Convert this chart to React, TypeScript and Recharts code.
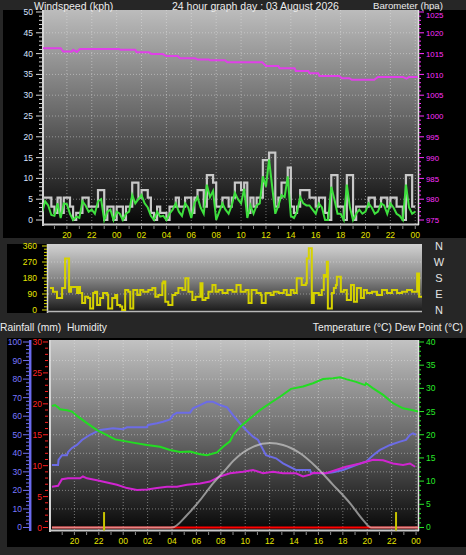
import React from 'react';
import { ComposedChart, Line, XAxis, YAxis, CartesianGrid, ReferenceLine } from 'recharts';

const FONT = '"Liberation Sans", Arial, Helvetica, sans-serif';

// ---------------- time axis ----------------
const hourTicks = [19, 20, 21, 22, 23, 24, 25, 26, 27, 28, 29, 30, 31, 32, 33, 34, 35, 36, 37, 38, 39, 40, 41, 42, 43, 44, 45, 46, 47, 48];
const labelHours = [20, 22, 24, 26, 28, 30, 32, 34, 36, 38, 40, 42, 44, 46, 48];
const labelTexts = ['20', '22', '00', '02', '04', '06', '08', '10', '12', '14', '16', '18', '20', '22', '00'];

// ---------------- panel 1 : wind + barometer ----------------
const gustKph = [
  5.4, 5.4, 5.4, 3.2, 1.7, 5.4, 1.7, 5.4, 5.4, 3.2,
  0, 1.7, 1.7, 5.4, 5.4, 3.2, 3.2, 3.2, 7.2, 7.2,
  0, 3.2, 3.2, 0, 3.2, 3.2, 0, 3.2, 3.2, 9.0,
  9.0, 5.4, 7.2, 7.2, 5.4, 1.7, 0, 3.2, 1.7, 1.7,
  0, 3.2, 3.2, 5.4, 3.2, 3.2, 5.4, 5.4, 1.7, 5.4,
  7.2, 7.2, 3.2, 10.8, 10.8, 9.0, 3.2, 3.2, 5.4, 5.4,
  3.2, 5.4, 9.0, 9.0, 7.2, 9.0, 1.7, 5.4, 3.2, 5.4,
  5.4, 14.4, 14.4, 16.2, 16.2, 3.2, 5.4, 9.0, 9.0, 12.6,
  3.2, 1.7, 3.2, 7.2, 7.2, 7.2, 5.4, 5.4, 3.2, 5.4,
  5.4, 1.7, 0, 10.8, 10.8, 3.2, 3.2, 0, 10.8, 10.8,
  0, 3.2, 3.2, 3.2, 3.2, 5.4, 5.4, 3.2, 3.2, 5.4,
  5.4, 3.2, 5.4, 5.4, 3.2, 3.2, 0, 10.8, 10.8, 3.2,
  3.2,
];
const windKph = [
  1.8, 4.5, 3.5, 1.2, 1.0, 4.0, 0.5, 4.0, 3.8, 1.5,
  0, 0.8, 0.5, 4.5, 3.5, 2.0, 2.5, 1.5, 4.5, 5.0,
  0, 2.0, 2.5, 0, 2.0, 1.5, 0, 1.5, 2.0, 6.0,
  4.0, 5.0, 6.0, 4.0, 3.0, 1.0, 0, 2.0, 0.8, 1.0,
  0, 1.5, 2.5, 4.0, 2.0, 1.0, 4.0, 3.0, 0.5, 4.0,
  5.5, 3.0, 1.5, 8.5, 5.5, 7.0, 0, 2.0, 4.0, 2.5,
  1.5, 3.5, 6.5, 5.0, 4.0, 7.5, 0.5, 3.5, 1.5, 3.5,
  4.0, 10.5, 8.0, 14.5, 8.0, 1.5, 3.5, 6.0, 5.5, 10.5,
  1.0, 0.5, 2.0, 5.5, 4.0, 3.5, 3.5, 2.5, 1.5, 4.0,
  3.0, 0, 0, 8.0, 5.0, 1.5, 1.5, 0, 8.5, 3.0,
  0, 1.5, 2.5, 1.5, 2.0, 4.0, 3.0, 1.5, 2.0, 4.0,
  3.5, 1.5, 4.0, 3.0, 1.5, 1.0, 0, 8.5, 3.0, 1.5,
  2.0,
];
const windStartHour = 18;
const windStepHours = 0.25;
const baroTimes = [18.0, 19.5, 19.7, 20.4, 20.5, 20.8, 21.05, 24.2, 24.3, 25.5, 25.6, 26.6, 26.8, 27.7, 28.0, 28.9, 29.1, 30.3, 30.5, 31.4, 31.5, 32.7, 32.9, 35.7, 36.0, 37.0, 37.1, 38.3, 38.4, 39.4, 39.5, 40.2, 40.3, 41.9, 42.1, 42.7, 42.9, 44.7, 45.0, 47.0, 47.3, 47.5, 48.2];
const baroHpa = [1016.3, 1016.3, 1015.5, 1015.5, 1015.9, 1015.4, 1016.1, 1016.1, 1015.9, 1015.9, 1015.3, 1015.3, 1014.9, 1014.9, 1014.4, 1014.4, 1013.9, 1013.9, 1013.6, 1013.6, 1013.4, 1013.4, 1012.9, 1012.9, 1012.0, 1012.0, 1011.5, 1011.5, 1010.8, 1010.8, 1010.3, 1010.3, 1009.6, 1009.6, 1009.1, 1009.1, 1008.7, 1008.7, 1009.4, 1009.4, 1009.0, 1009.4, 1009.4];

// ---------------- panel 2 : wind direction ----------------
const dirTimes = [18.16, 18.40, 18.72, 18.97, 19.13, 19.37, 19.61, 19.69, 19.85, 20.25, 20.33, 20.41, 20.57, 20.74, 20.98, 21.22, 21.38, 21.62, 21.78, 21.94, 22.18, 22.42, 22.75, 22.83, 23.15, 23.39, 23.55, 23.79, 23.95, 24.19, 24.44, 24.60, 24.84, 25.16, 25.40, 25.64, 26.05, 26.37, 26.61, 26.85, 27.17, 27.25, 27.41, 27.65, 27.98, 28.22, 28.46, 28.78, 29.02, 29.26, 29.58, 29.83, 30.23, 30.39, 30.63, 30.87, 31.19, 31.44, 31.68, 32.00, 32.40, 32.80, 33.12, 33.45, 33.85, 34.09, 34.33, 34.73, 35.06, 35.14, 35.46, 35.86, 36.10, 36.50, 36.91, 37.15, 37.47, 37.71, 37.95, 38.35, 38.68, 38.76, 38.92, 39.08, 39.16, 39.32, 39.72, 39.96, 40.12, 40.28, 40.37, 40.45, 40.69, 40.77, 40.93, 41.09, 41.17, 41.49, 41.73, 41.97, 42.30, 42.54, 42.78, 43.10, 43.34, 43.58, 43.99, 44.39, 44.79, 45.19, 45.59, 46.00, 46.40, 46.80, 47.20, 47.53, 47.61, 47.77, 48.0];
const dirDeg = [124, 103, 67, 67, 124, 290, 290, 103, 130, 130, 96, 130, 96, 39, 75, 67, 9, 96, 103, 28, 67, 96, 84, 9, 67, 84, 28, 19, 0, 112, 103, 9, 112, 84, 112, 103, 112, 124, 75, 84, 150, 160, 47, 28, 84, 96, 124, 112, 178, 103, 56, 75, 150, 56, 67, 103, 140, 103, 112, 96, 112, 103, 140, 103, 112, 39, 112, 96, 84, 39, 96, 84, 103, 96, 112, 84, 112, 96, 178, 140, 150, 290, 347, 347, 39, 96, 84, 112, 197, 187, 272, 9, 9, 96, 124, 140, 187, 103, 112, 56, 140, 47, 124, 67, 112, 96, 103, 84, 112, 96, 112, 96, 103, 112, 103, 103, 206, 75, 75];
const dirTickValues = [0, 90, 180, 270, 360];
const dirTickLetters = ['N', 'E', 'S', 'W', 'N'];

// ---------------- panel 3 : temperature / humidity / rain ----------------
const humTimes = [18.16, 18.66, 18.7, 18.98, 19.39, 19.48, 19.8, 20.21, 20.62, 21.28, 22.1, 23.16, 23.98, 24.31, 25.95, 26.03, 26.77, 27.26, 27.84, 28.08, 28.41, 29.48, 29.72, 30.3, 30.87, 31.36, 31.93, 32.51, 33.0, 33.57, 34.07, 34.64, 35.05, 35.7, 36.52, 37.1, 38.16, 39.31, 39.39, 40.62, 41.2, 42.02, 43.08, 43.9, 44.48, 45.05, 45.87, 46.69, 47.18, 47.5, 47.75, 48.0];
const humPct = [33.7, 33.7, 36.4, 39.0, 39.0, 40.7, 42.9, 44.5, 47.2, 50, 52.6, 53.5, 53, 54, 54, 55.3, 56.2, 57, 58.3, 60.6, 61.9, 61.9, 64.2, 66, 67.8, 67.8, 66, 64.8, 60.6, 56.2, 52.6, 49, 47.2, 39, 37.3, 34.6, 31, 31, 29.2, 29.2, 29.8, 31, 33.7, 35.5, 39, 41.8, 44.5, 46.3, 47.2, 49.9, 50.8, 49.9];
const tempTimes = [18.16, 18.41, 18.66, 18.82, 19.39, 19.8, 20.3, 21.03, 21.85, 22.67, 23.33, 24.8, 25.95, 27.02, 27.84, 28.66, 29.48, 30.3, 30.87, 31.69, 32.18, 32.75, 33.0, 33.57, 34.39, 35.21, 36.03, 36.85, 37.75, 38.74, 39.56, 40.38, 41.2, 41.77, 42.26, 43.08, 43.82, 43.9, 44.48, 45.3, 46.11, 46.93, 47.75, 48.16];
const tempC = [26.2, 26.4, 25.9, 25.5, 25.3, 25.0, 23.9, 22.5, 21.0, 19.9, 19.0, 18.3, 17.8, 17.4, 16.7, 16.3, 16.4, 15.8, 15.6, 16.2, 17.4, 18.6, 19.9, 21.7, 23.5, 25.3, 26.8, 28.2, 29.9, 30.4, 31.1, 32.0, 32.2, 32.4, 32.0, 31.4, 30.7, 31.1, 30.0, 28.6, 26.8, 25.7, 25.3, 25.0];
const dewTimes = [18.16, 18.66, 18.98, 19.48, 20.46, 20.7, 21.03, 21.85, 22.67, 23.49, 24.31, 25.13, 25.95, 26.77, 27.59, 28.41, 29.23, 30.3, 31.11, 31.93, 32.75, 33.82, 34.64, 35.46, 36.28, 37.1, 38.16, 38.74, 39.31, 39.56, 40.62, 41.44, 42.26, 43.41, 44.48, 45.3, 46.11, 46.93, 47.5, 47.92];
const dewC = [8.8, 9.0, 10.4, 10.6, 10.6, 11.0, 10.6, 10.2, 9.7, 9.2, 8.5, 8.1, 8.2, 8.5, 8.8, 8.8, 9.2, 9.5, 9.9, 11.0, 11.7, 12.0, 12.4, 11.7, 12.0, 11.7, 11.7, 11.0, 11.4, 11.8, 11.7, 12.4, 13.1, 13.8, 14.6, 14.5, 13.8, 13.5, 13.8, 13.1];
const sunTimes = [18.16, 28.0, 29.23, 30.3, 31.36, 32.5, 33.0, 34.64, 36.03, 37.1, 38.5, 39.8, 41.2, 42.6, 43.66, 44.3, 48.16];
const sunVal = [0, 0, 2.7, 5.9, 9.5, 12.8, 14.3, 17.4, 18.2, 17.8, 16.0, 13.1, 9.2, 5.2, 1.6, 0, 0];
const rainTimes = [18.16, 48.16];
const rainMm = [0, 0];
const markerTimes = [22.43, 46.36];
const markerFromMm = -0.5;
const markerToMm = 2.5;

// ---------------- tick value lists ----------------
const windTicks = Array.from({ length: 51 }, (_, i) => i);
const baroTicks = Array.from({ length: 51 }, (_, i) => 975 + i);
const dirMinorTicks = Array.from({ length: 21 }, (_, i) => i * 18);
const humTicks = Array.from({ length: 51 }, (_, i) => i * 2);
const rainTicks = Array.from({ length: 31 }, (_, i) => i);
const tempTicks = Array.from({ length: 41 }, (_, i) => i);

// ---------------- built data ----------------
const windData = gustKph.map((g, i) => ({ t: windStartHour + i * windStepHours, gust: g, wind: windKph[i] }));
const baroData = baroTimes.map((t, i) => ({ t, baro: baroHpa[i] }));
const dirData = dirTimes.map((t, i) => ({ t, dir: dirDeg[i] }));
const humData = humTimes.map((t, i) => ({ t, hum: humPct[i] }));
const tempData = tempTimes.map((t, i) => ({ t, temp: tempC[i] }));
const dewData = dewTimes.map((t, i) => ({ t, dew: dewC[i] }));
const sunData = sunTimes.map((t, i) => ({ t, sun: sunVal[i] }));
const rainData = rainTimes.map((t, i) => ({ t, rain: rainMm[i] }));

// ---------------- tick renderers ----------------
const makeXTick = (tickTop: number, labelBaseline: number) => (props: any) => {
  const { x, payload } = props;
  const idx = labelHours.indexOf(payload.value);
  return (
    <g>
      <line x1={x} x2={x} y1={tickTop} y2={tickTop + 3} stroke="#8c8c8c" strokeWidth={1} />
      {idx >= 0 && (
        <text x={x} y={labelBaseline} textAnchor="middle" fill="#e4e400" fontSize={8.5} fontFamily={FONT}>
          {labelTexts[idx]}
        </text>
      )}
    </g>
  );
};

const makeLeftTick = (o: { every: number; x1Major: number; x1Minor: number; x2: number; labelX: number; color: string; lineColor: string }) =>
  (props: any) => {
    const { y, payload } = props;
    const v = payload.value;
    const major = Math.abs(v % o.every) < 1e-6;
    return (
      <g>
        <line x1={major ? o.x1Major : o.x1Minor} x2={o.x2} y1={y} y2={y} stroke={o.lineColor} strokeWidth={1} />
        {major && (
          <text x={o.labelX} y={y + 3} textAnchor="end" fill={o.color} fontSize={8.5} fontFamily={FONT}>
            {v}
          </text>
        )}
      </g>
    );
  };

const makeRightTick = (o: { every: number; x1: number; x2Major: number; x2Minor: number; labelX: number; color: string; lineColor: string; fontSize: number; dy: number; minBaseline: number }) =>
  (props: any) => {
    const { y, payload } = props;
    const v = payload.value;
    const major = Math.abs(v % o.every) < 1e-6;
    return (
      <g>
        <line x1={o.x1} x2={major ? o.x2Major : o.x2Minor} y1={y} y2={y} stroke={o.lineColor} strokeWidth={1} />
        {major && (
          <text x={o.labelX} y={Math.max(y + o.dy, o.minBaseline)} textAnchor="start" fill={o.color} fontSize={o.fontSize} fontFamily={FONT}>
            {v}
          </text>
        )}
      </g>
    );
  };

const DirLetterTick = (props: any) => {
  const { y, payload } = props;
  const idx = dirTickValues.indexOf(payload.value);
  return (
    <text x={439} y={y + 4} textAnchor="middle" fill="#e4e4e4" fontSize={11} fontFamily={FONT}>
      {idx >= 0 ? dirTickLetters[idx] : ''}
    </text>
  );
};

const windTick = makeLeftTick({ every: 5, x1Major: 36, x1Minor: 39, x2: 42, labelX: 33, color: '#d8e2ff', lineColor: '#d8d8d8' });
const baroTick = makeRightTick({ every: 5, x1: 419, x2Major: 424, x2Minor: 421, labelX: 426, color: '#ff30ff', lineColor: '#ff30ff', fontSize: 7.8, dy: 3.2, minBaseline: 18 });
const dirTick = makeLeftTick({ every: 90, x1Major: 42, x1Minor: 44, x2: 47, labelX: 37, color: '#e6e600', lineColor: '#d8d800' });
const humTick = makeLeftTick({ every: 10, x1Major: 23, x1Minor: 26, x2: 29, labelX: 22, color: '#7878ff', lineColor: '#7070f0' });
const rainTick = makeLeftTick({ every: 5, x1Major: 43, x1Minor: 45, x2: 48, labelX: 42, color: '#ff2424', lineColor: '#ff2020' });
const tempTick = makeRightTick({ every: 5, x1: 419, x2Major: 424, x2Minor: 421, labelX: 426, color: '#28e828', lineColor: '#28e828', fontSize: 8.5, dy: 3, minBaseline: 0 });

const gridStyle = { stroke: '#e8e8e8', strokeOpacity: 0.45, strokeDasharray: '1 2' };

// ---------------- static frame ----------------
const Frame = () => (
  <svg width={466} height={555} style={{ position: 'absolute', left: 0, top: 0 }}>
    <defs>
      <linearGradient id="bg1" x1="0" y1="0" x2="0" y2="1">
        <stop offset="0" stopColor="#bcbcbc" />
        <stop offset="0.5" stopColor="#666666" />
        <stop offset="1" stopColor="#060606" />
      </linearGradient>
      <linearGradient id="bg2" x1="0" y1="0" x2="0" y2="1">
        <stop offset="0" stopColor="#d2d2d2" />
        <stop offset="0.5" stopColor="#888888" />
        <stop offset="1" stopColor="#181818" />
      </linearGradient>
      <linearGradient id="bg3" x1="0" y1="0" x2="0" y2="1">
        <stop offset="0" stopColor="#c2c2c2" />
        <stop offset="0.5" stopColor="#6a6a6a" />
        <stop offset="1" stopColor="#080808" />
      </linearGradient>
    </defs>
    <rect x={0} y={0} width={466} height={555} fill="#262626" />
    {/* panel 1 */}
    <rect x={3} y={10} width={463} height={228} fill="#000" />
    <rect x={43} y={10} width={375} height={214} fill="url(#bg1)" />
    <line x1={43} x2={43} y1={10} y2={226} stroke="#d4d4d4" strokeWidth={2} />
    <line x1={42} x2={419} y1={224.5} y2={224.5} stroke="#c8c8c8" strokeWidth={2} />
    <line x1={418.5} x2={418.5} y1={10} y2={225} stroke="#e0e0e0" strokeWidth={1.5} />
    <text x={34} y={9.6} fill="#ececec" fontSize={10.5} fontFamily={FONT}>Windspeed (kph)</text>
    <text x={172} y={9.6} fill="#ececec" fontSize={10.5} fontFamily={FONT}>24 hour graph day : 03 August 2026</text>
    <text x={373} y={8.7} fill="#ececec" fontSize={9.6} fontFamily={FONT}>Barometer (hpa)</text>
    {/* panel 2 */}
    <rect x={7} y={244} width={41} height={69} fill="#000" />
    <rect x={48} y={244} width={374} height={68} fill="url(#bg2)" />
    <line x1={47.5} x2={47.5} y1={244} y2={313} stroke="#d8d8d8" strokeWidth={1.5} />
    <line x1={47} x2={422} y1={311.5} y2={311.5} stroke="#b8b8b8" strokeWidth={1.5} />
    {/* panel 3 */}
    <text x={0} y={331} fill="#ececec" fontSize={10.3} fontFamily={FONT} style={{ whiteSpace: 'pre' }}>Rainfall (mm)  Humidity</text>
    <text x={463} y={331} textAnchor="end" fill="#ececec" fontSize={10.3} fontFamily={FONT}>Temperature (°C) Dew Point (°C)</text>
    <rect x={7} y={338} width={459} height={209} fill="#000" />
    <rect x={50} y={340} width={368} height={190} fill="url(#bg3)" />
    <line x1={30.2} x2={30.2} y1={340} y2={531} stroke="#6a6aee" strokeWidth={2.5} />
    <line x1={50} x2={50} y1={340} y2={532} stroke="#d4d4d4" strokeWidth={2} />
    <line x1={49} x2={419} y1={530.5} y2={530.5} stroke="#c8c8c8" strokeWidth={2} />
    <line x1={418.5} x2={418.5} y1={340} y2={531} stroke="#e0e0e0" strokeWidth={1.5} />
  </svg>
);

export default function App() {
  return (
    <div style={{ position: 'fixed', left: 0, top: 0, width: 466, height: 555, overflow: 'hidden', background: '#262626' }}>
      <Frame />

      {/* Panel 1 */}
      <div style={{ position: 'absolute', left: 0, top: 0 }}>
        <ComposedChart width={466} height={250} margin={{ top: 10, right: 4, bottom: 6, left: 3 }}>
          <CartesianGrid
            yAxisId="wind"
            horizontalValues={[5, 10, 15, 20, 25, 30, 35, 40, 45]}
            verticalValues={labelHours}
            {...gridStyle}
          />
          <XAxis type="number" dataKey="t" domain={[18.08, 48.22]} allowDataOverflow ticks={hourTicks} interval={0}
            tick={makeXTick(226, 237.5)} tickLine={false} axisLine={false} height={20} />
          <YAxis yAxisId="wind" orientation="left" width={40} domain={[-0.96, 50.48]} allowDataOverflow
            ticks={windTicks} interval={0} tick={windTick} tickLine={false} axisLine={false} />
          <YAxis yAxisId="baro" orientation="right" width={44} domain={[974.04, 1025.48]} allowDataOverflow
            ticks={baroTicks} interval={0} tick={baroTick} tickLine={false} axisLine={false} />
          <Line yAxisId="wind" data={windData} dataKey="gust" type="stepAfter" stroke="#c8c8c8" strokeWidth={2.2} dot={false} isAnimationActive={false} />
          <Line yAxisId="wind" data={windData} dataKey="wind" type="linear" stroke="#3ee03e" strokeWidth={2} dot={false} isAnimationActive={false} />
          <Line yAxisId="baro" data={baroData} dataKey="baro" type="linear" stroke="#e040e8" strokeWidth={2} dot={false} isAnimationActive={false} />
        </ComposedChart>
      </div>

      {/* Panel 2 */}
      <div style={{ position: 'absolute', left: 0, top: 240 }}>
        <ComposedChart width={466} height={80} margin={{ top: 4, right: 4, bottom: 8, left: 8 }}>
          <CartesianGrid yAxisId="dir" horizontalValues={[90, 180, 270]} vertical={false} {...gridStyle} />
          <XAxis type="number" dataKey="t" domain={[18, 48]} allowDataOverflow hide />
          <YAxis yAxisId="dir" orientation="left" width={40} domain={[-11.25, 371.25]} allowDataOverflow
            ticks={dirMinorTicks} interval={0} tick={dirTick} tickLine={false} axisLine={false} />
          <YAxis yAxisId="letters" orientation="right" width={40} domain={[-11.25, 371.25]} allowDataOverflow
            ticks={dirTickValues} interval={0} tick={DirLetterTick} tickLine={false} axisLine={false} />
          <Line yAxisId="dir" data={dirData} dataKey="dir" type="stepAfter" stroke="#d6d200" strokeWidth={2} dot={false} isAnimationActive={false} />
        </ComposedChart>
      </div>

      {/* Panel 3 */}
      <div style={{ position: 'absolute', left: 0, top: 330 }}>
        <ComposedChart width={466} height={225} margin={{ top: 10, right: 4, bottom: 5, left: 5 }}>
          <CartesianGrid
            yAxisId="hum"
            horizontalValues={[10, 20, 30, 40, 50, 60, 70, 80, 90]}
            verticalValues={labelHours}
            {...gridStyle}
          />
          <XAxis type="number" dataKey="t" domain={[18, 48.16]} allowDataOverflow ticks={hourTicks} interval={0}
            tick={makeXTick(202, 214.3)} tickLine={false} axisLine={false} height={20} />
          <YAxis yAxisId="hum" orientation="left" width={25} domain={[-1.35, 101.08]} allowDataOverflow
            ticks={humTicks} interval={0} tick={humTick} tickLine={false} axisLine={false} />
          <YAxis yAxisId="rain" orientation="left" width={20} domain={[-0.4, 30.32]} allowDataOverflow
            ticks={rainTicks} interval={0} tick={rainTick} tickLine={false} axisLine={false} />
          <YAxis yAxisId="temp" orientation="right" width={44} domain={[-0.54, 40.43]} allowDataOverflow
            ticks={tempTicks} interval={0} tick={tempTick} tickLine={false} axisLine={false} />
          <Line yAxisId="hum" data={humData} dataKey="hum" type="linear" stroke="#6c6ce6" strokeWidth={2} dot={false} isAnimationActive={false} />
          <Line yAxisId="temp" data={tempData} dataKey="temp" type="linear" stroke="#22dd22" strokeWidth={2} dot={false} isAnimationActive={false} />
          <Line yAxisId="temp" data={dewData} dataKey="dew" type="linear" stroke="#d024d0" strokeWidth={2} dot={false} isAnimationActive={false} />
          <Line yAxisId="rain" data={rainData} dataKey="rain" type="linear" stroke="#ff0000" strokeWidth={2} dot={false} isAnimationActive={false} />
          <Line yAxisId="temp" data={sunData} dataKey="sun" type="monotone" stroke="#dcdcdc" strokeOpacity={0.6} strokeWidth={2} dot={false} isAnimationActive={false} />
          {markerTimes.map((m) => (
            <ReferenceLine key={m} yAxisId="rain" ifOverflow="visible"
              segment={[{ x: m, y: markerFromMm }, { x: m, y: markerToMm }]}
              stroke="#c8c400" strokeWidth={2} />
          ))}
        </ComposedChart>
      </div>
    </div>
  );
}
